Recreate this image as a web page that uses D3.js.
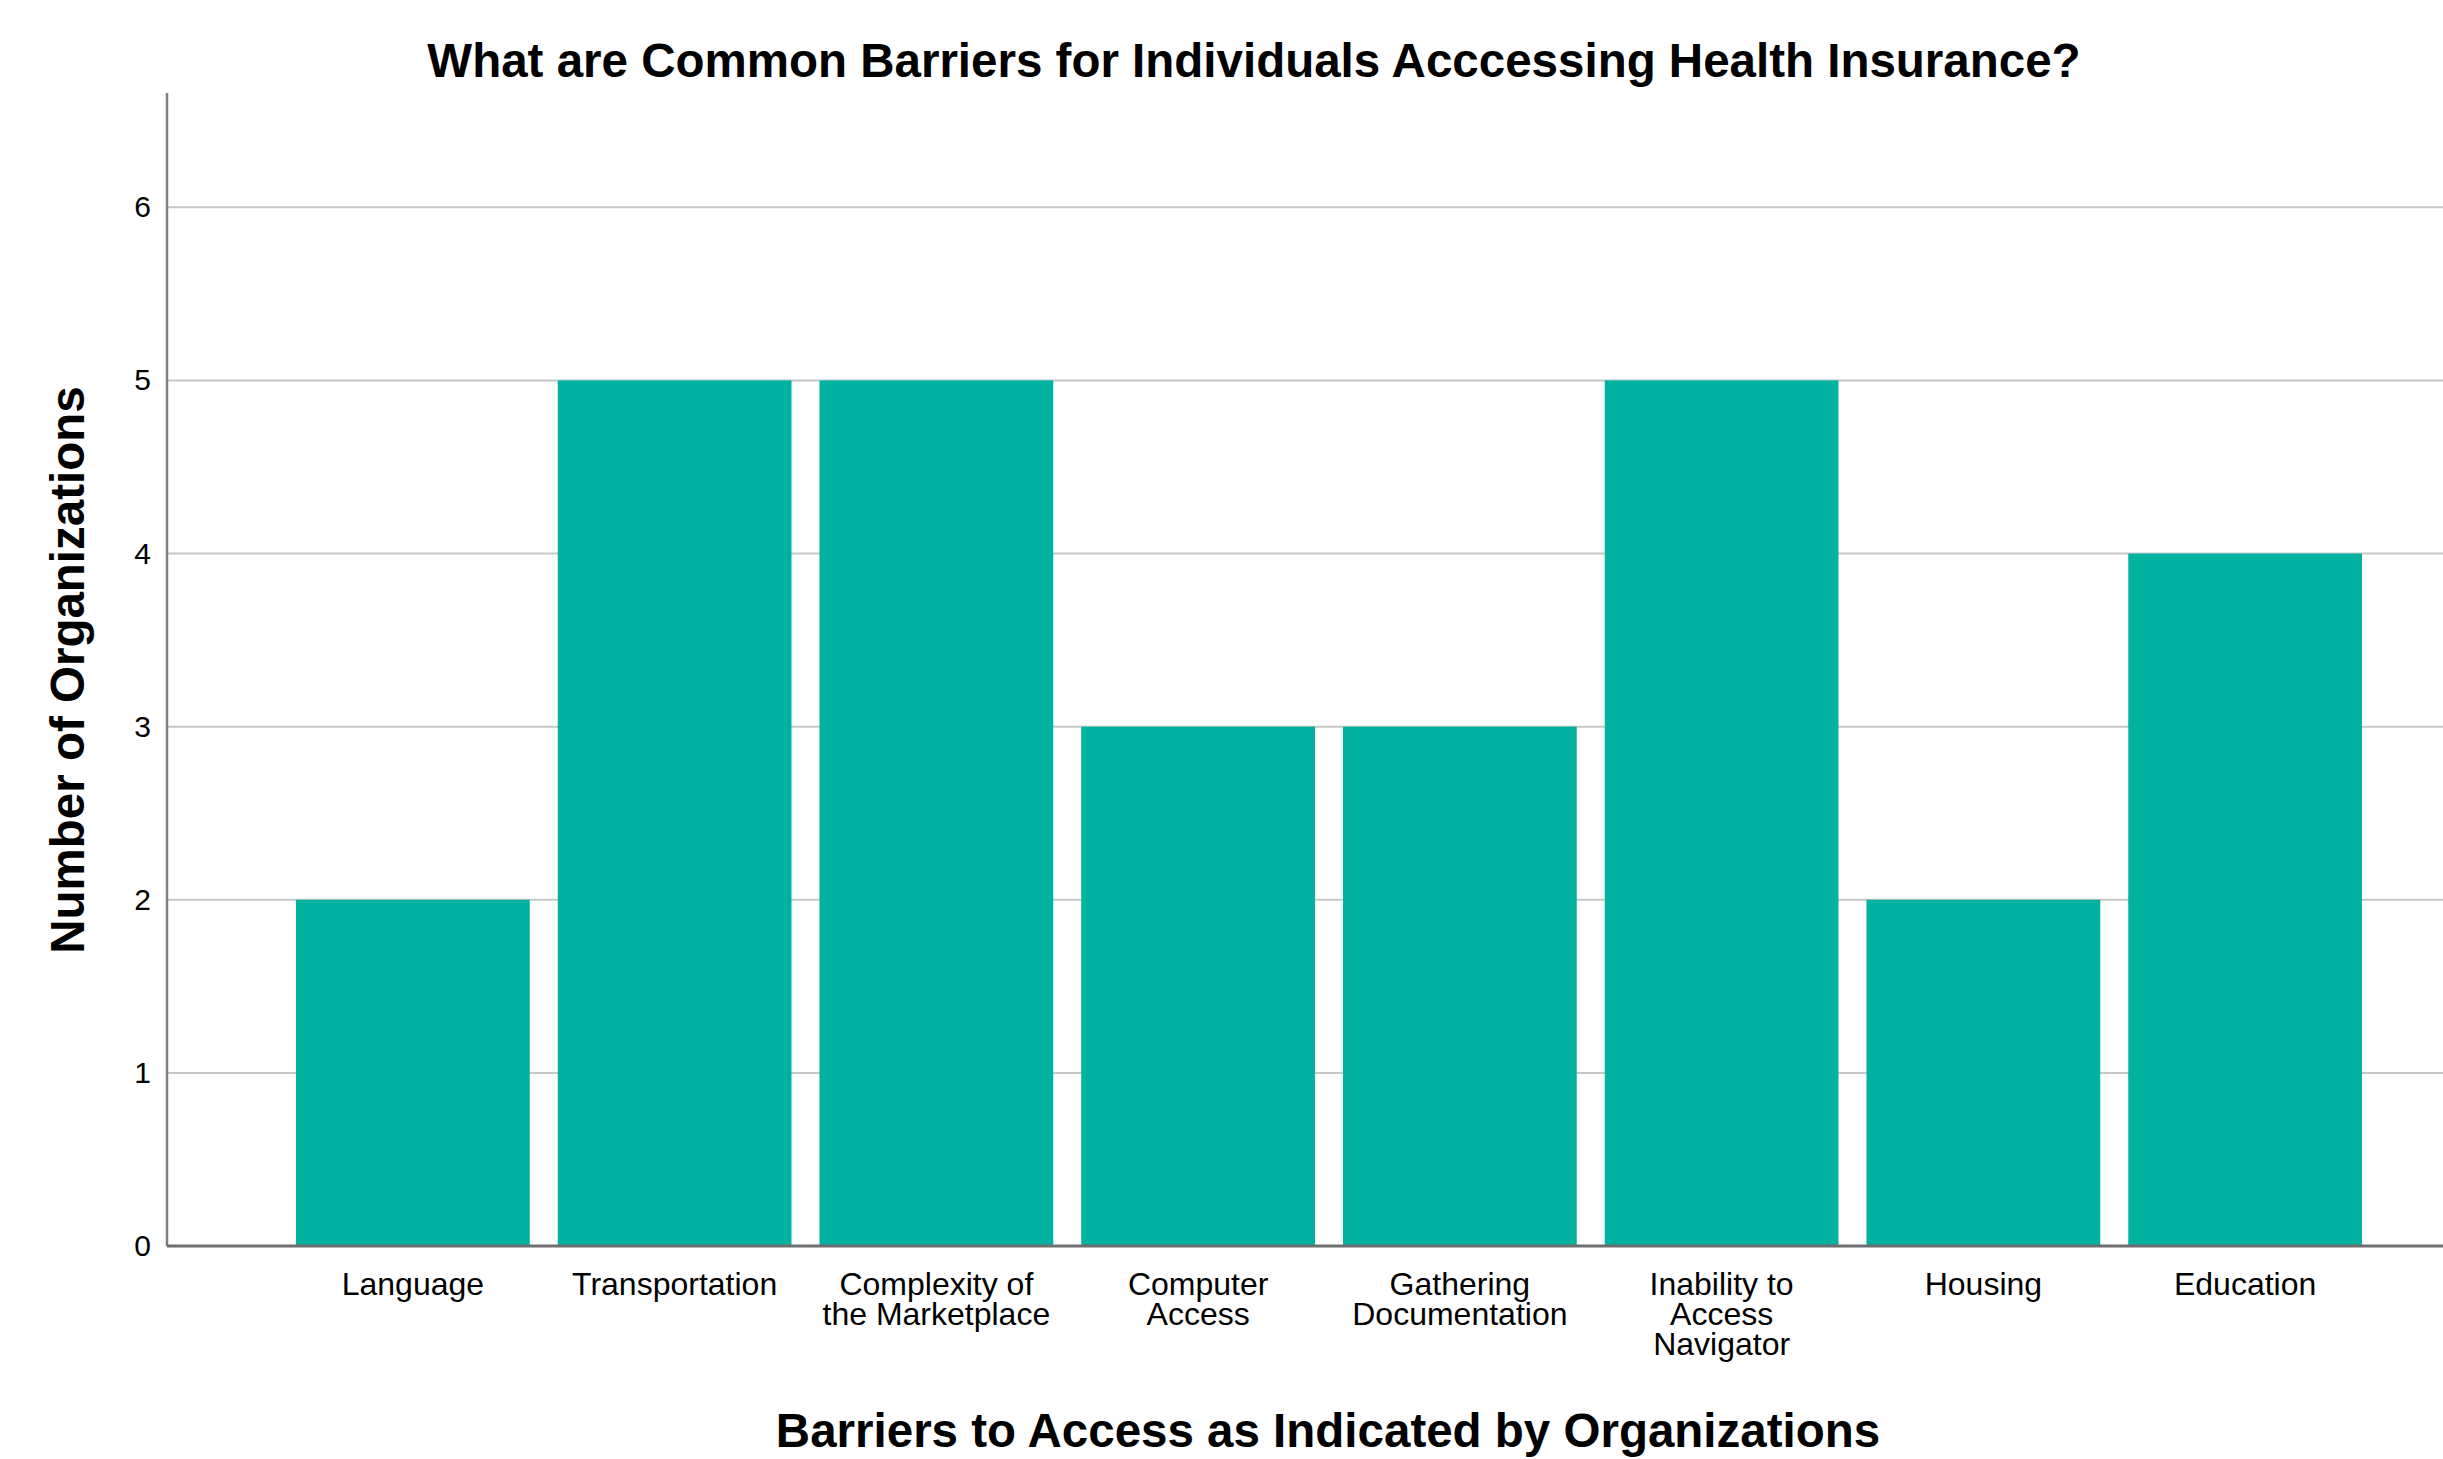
<!DOCTYPE html>
<html><head><meta charset="utf-8">
<script src="https://cdn.jsdelivr.net/npm/d3@7"></script>
<style>body{margin:0;background:#fff;} svg{display:block;} text{font-family:"Liberation Sans",Arial,sans-serif;fill:#000;}</style>
</head><body>
<svg id="chart" width="2443" height="1459"></svg>
<script>
const categories = ["Language","Transportation","Complexity of\nthe Marketplace","Computer\nAccess","Gathering\nDocumentation","Inability to\nAccess\nNavigator","Housing","Education"];
const values = [2,5,5,3,3,5,2,4];
const yTicks = [0,1,2,3,4,5,6];
const titleText = "What are Common Barriers for Individuals Acccessing Health Insurance?";
const xTitle = "Barriers to Access as Indicated by Organizations";
const yTitle = "Number of Organizations";

const W = 2443, H = 1459;
const axisX = 167, axisTop = 93, axisBottom = 1246;
const svg = d3.select("#chart");

const y = d3.scaleLinear().domain([0, 6.66]).range([axisBottom, axisTop]);
const x = d3.scaleBand().domain(categories).range([282, 2376]).paddingInner(0.107).paddingOuter(0.0535);

// gridlines
svg.append("g").selectAll("line").data(yTicks.filter(d=>d>0)).join("line")
  .attr("x1", axisX).attr("x2", W).attr("y1", d=>y(d)).attr("y2", d=>y(d))
  .attr("stroke", "#c8c8c8").attr("stroke-width", 2);

// bars
svg.append("g").selectAll("rect").data(values).join("rect")
  .attr("x", (d,i)=>x(categories[i])).attr("width", x.bandwidth())
  .attr("y", d=>y(d)).attr("height", d=>y(0)-y(d))
  .attr("fill", "#00b3a0");

// y axis
const yAxis = svg.append("g").attr("transform", `translate(${axisX},0)`)
  .call(d3.axisLeft(y).tickValues(yTicks).tickFormat(d3.format("d")).tickSize(0).tickPadding(16));
yAxis.select(".domain").attr("stroke", "#808080").attr("stroke-width", 2.5).attr("d", `M0,${axisTop}V${axisBottom}`);
yAxis.selectAll("text").attr("font-size", 30).attr("font-family", "Liberation Sans, Arial, sans-serif").attr("fill", "#000");

// x baseline
svg.append("line").attr("x1", axisX).attr("x2", W).attr("y1", axisBottom).attr("y2", axisBottom)
  .attr("stroke", "#6e6e6e").attr("stroke-width", 3);

// x labels
const xl = svg.append("g");
categories.forEach(c => {
  const lines = c.split("\n");
  const t = xl.append("text").attr("text-anchor", "middle").attr("font-size", 32)
    .attr("x", x(c) + x.bandwidth()/2).attr("y", 1295);
  lines.forEach((ln, k) => t.append("tspan").attr("x", x(c) + x.bandwidth()/2).attr("dy", k === 0 ? 0 : 30).text(ln));
});

// title
svg.append("text").attr("x", 1254).attr("y", 77).attr("text-anchor", "middle")
  .attr("font-size", 47.5).attr("font-weight", "bold").text(titleText);
// x title
svg.append("text").attr("x", 1328).attr("y", 1447).attr("text-anchor", "middle")
  .attr("font-size", 47.5).attr("font-weight", "bold").text(xTitle);
// y title
svg.append("text").attr("transform", "translate(84,670) rotate(-90)").attr("text-anchor", "middle")
  .attr("font-size", 47.5).attr("font-weight", "bold").text(yTitle);
</script>
</body></html>
